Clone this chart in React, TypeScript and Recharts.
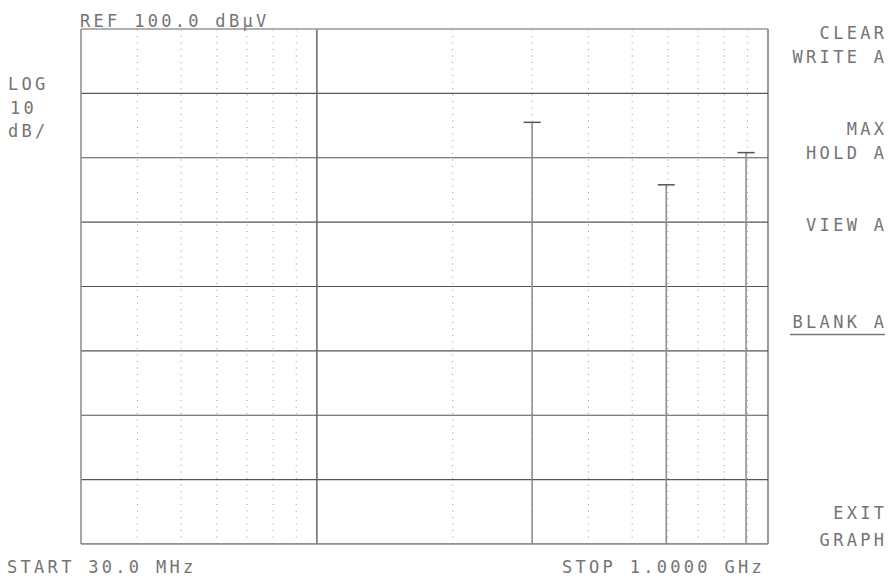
import React from "react";
import { ComposedChart, Line, Scatter, XAxis, YAxis, ReferenceLine } from "recharts";

const FREQ_MIN = 30;
const FREQ_MAX = 1000;
const LEVEL_MIN = 20;
const LEVEL_MAX = 100;
const levelGrid = [30, 40, 50, 60, 70, 80, 90];
const dottedFreqs = [40, 50, 60, 70, 80, 90, 200, 300, 400, 500, 600, 700, 800, 900];
const solidFreqs = [100];
const peakFreqs = [300, 595, 894];
const peakLevels = [85.5, 75.8, 80.8];
const floorLevel = 20;

const peaks = peakFreqs.map((f, i) => ({ f, v: peakLevels[i] }));
const trace: { f: number; v: number }[] = [{ f: FREQ_MIN, v: floorLevel }];
peakFreqs.forEach((f, i) => {
  trace.push({ f, v: floorLevel });
  trace.push({ f, v: peakLevels[i] });
  trace.push({ f, v: floorLevel });
});
trace.push({ f: FREQ_MAX, v: floorLevel });

const W = 891;
const H = 579;
const FONT = "'DejaVu Sans Mono', monospace";
const FS = 17;
const LS = 3.3;
const TXT = "#747474";

const Cap = (props: any) => {
  const { cx, cy } = props;
  if (cx == null || cy == null) return null;
  return <line x1={cx - 8.5} x2={cx + 8.5} y1={cy} y2={cy} stroke="#555" strokeWidth={1.5} />;
};

type T = { s: string; x: number; y: number; end?: boolean };
const texts: T[] = [
  { s: "REF 100.0 dBµV", x: 80, y: 27 },
  { s: "LOG", x: 8, y: 90 },
  { s: "10", x: 10, y: 114 },
  { s: "dB/", x: 8, y: 137 },
  { s: "START 30.0 MHz", x: 7, y: 573 },
  { s: "STOP 1.0000 GHz", x: 562, y: 573 },
  { s: "CLEAR", x: 884, y: 39, end: true },
  { s: "WRITE A", x: 884, y: 63, end: true },
  { s: "MAX", x: 884, y: 135, end: true },
  { s: "HOLD A", x: 884, y: 159, end: true },
  { s: "VIEW A", x: 884, y: 231, end: true },
  { s: "BLANK A", x: 884, y: 328, end: true },
  { s: "EXIT", x: 884, y: 519, end: true },
  { s: "GRAPH", x: 884, y: 546, end: true },
];

export default function App() {
  return (
    <div style={{ position: "absolute", left: 0, top: 0, width: W, height: H, background: "#fff" }}>
      <ComposedChart width={W} height={H} margin={{ top: 29, right: 123, bottom: 35, left: 81 }}>
        <XAxis dataKey="f" type="number" scale="log" domain={[FREQ_MIN, FREQ_MAX]} allowDataOverflow hide />
        <YAxis dataKey="v" type="number" domain={[LEVEL_MIN, LEVEL_MAX]} allowDataOverflow hide />
        {dottedFreqs.map((f) => (
          <ReferenceLine key={"d" + f} x={f} stroke="#999" strokeWidth={1} strokeDasharray="1 5.5" />
        ))}
        {levelGrid.map((v) => (
          <ReferenceLine key={"h" + v} y={v} stroke="#555" strokeWidth={1.2} />
        ))}
        {solidFreqs.map((f) => (
          <ReferenceLine key={"s" + f} x={f} stroke="#666" strokeWidth={1.5} />
        ))}
        <ReferenceLine x={FREQ_MIN} stroke="#888" strokeWidth={1.5} />
        <ReferenceLine x={FREQ_MAX} stroke="#555" strokeWidth={1.2} />
        <ReferenceLine y={LEVEL_MAX} stroke="#999" strokeWidth={1.5} />
        <ReferenceLine y={LEVEL_MIN} stroke="#555" strokeWidth={1.2} />
        <Line data={trace} dataKey="v" type="linear" stroke="#8a8a8a" strokeWidth={1.5} dot={false} isAnimationActive={false} />
        <Scatter data={peaks} dataKey="v" shape={Cap} isAnimationActive={false} />
      </ComposedChart>
      <svg width={W} height={H} style={{ position: "absolute", left: 0, top: 0, pointerEvents: "none" }}>
        {texts.map((t) => (
          <text
            key={t.s}
            x={t.end ? t.x + LS : t.x}
            y={t.y}
            textAnchor={t.end ? "end" : "start"}
            fontFamily={FONT}
            fontSize={FS}
            letterSpacing={LS}
            fill={TXT}
          >
            {t.s}
          </text>
        ))}
        <line x1={790} x2={885} y1={334.5} y2={334.5} stroke="#777" strokeWidth={1.5} />
      </svg>
    </div>
  );
}
